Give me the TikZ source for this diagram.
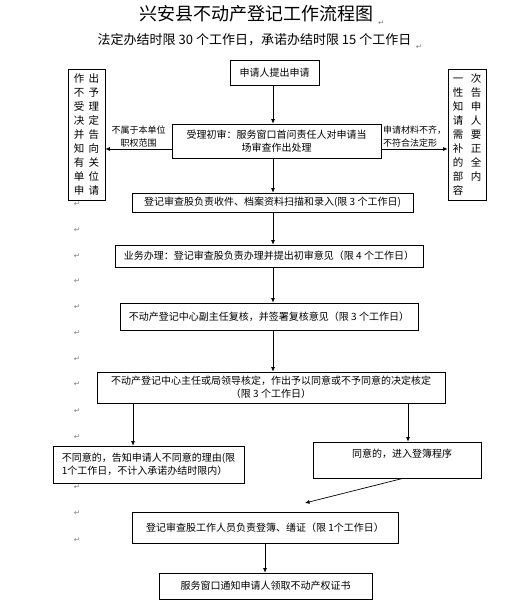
\documentclass[tikz,border=0pt]{standalone}
\usepackage{fontspec}
\setmainfont{Noto Sans CJK SC}
\newfontfamily\markfont{DejaVu Sans}
\usetikzlibrary{arrows.meta,positioning}

\newcommand{\duo}[3]{\makebox[#1]{#2}\makebox[#1]{#3}}

\tikzset{
  stage/.style={draw, line width=0.7pt, inner sep=0pt,
    font=\fontsize{10}{13}\selectfont},
  column/.style={stage, minimum width=37, minimum height=131, align=center,
    font=\fontsize{10.5}{14}\selectfont},
  flow/.style={line width=0.7pt, -{Latex[length=4.5pt,width=4pt]}},
  sidenote/.style={font=\fontsize{9}{13}\selectfont, inner sep=1pt},
  paramark/.style={font=\markfont\fontsize{7.5}{7.5}\selectfont, text=gray, inner sep=0pt},
}

\begin{document}
\begin{tikzpicture}[x=1pt, y=-1pt]
  \useasboundingbox (0,0) rectangle (513,605);

  % headings
  \node[font=\fontsize{18}{20}\selectfont] (title) at (256.5,14) {兴安县不动产登记工作流程图};
  \node[paramark, right=1pt of title.south east, anchor=south west] (titlemark) {↵};
  \node[font=\fontsize{13}{15}\selectfont] (limits) at (254.5,40) {法定办结时限 30 个工作日，承诺办结时限 15 个工作日};
  \node[paramark, right=1pt of limits.south east, anchor=south west] (limitsmark) {↵};

  % paragraph marks down the margin
  \foreach \y in {204,230,256,281,307,333,359,384,411,437,487,513,540}
    \node[paramark] (mark\y) at (77,\y) {↵};

  % main chain
  \node[stage, minimum width=89, minimum height=25] (apply) at (274.5,72.5) {申请人提出申请};
  \node[stage, minimum width=209, minimum height=34, align=center] (accept) at (276.5,141)
    {受理初审：服务窗口首问责任人对申请当\\场审查作出处理};
  \node[stage, minimum width=281, minimum height=19] (intake) at (272.5,202.5)
    {登记审查股负责收件、档案资料扫描和录入(限 3 个工作日)};
  \node[stage, minimum width=308, minimum height=22] (handle) at (269,256)
    {业务办理：登记审查股负责办理并提出初审意见（限 4 个工作日）};
  \node[stage, minimum width=298, minimum height=27] (review) at (269,316.5)
    {不动产登记中心副主任复核，并签署复核意见（限 3 个工作日）};
  \node[stage, minimum width=348, minimum height=31, align=center] (decide) at (271,387.5)
    {不动产登记中心主任或局领导核定，作出予以同意或不予同意的决定核定\\（限 3 个工作日）};
  \node[stage, minimum width=191, minimum height=37, align=left] (reject) at (148.5,464.5)
    {不同意的，告知申请人不同意的理由(限\\1个工作日，不计入承诺办结时限内）};
  \node[stage, minimum width=168, minimum height=36, align=center] (approve) at (397,460)
    {\hspace{10pt}同意的，进入登簿程序\\ \mbox{}};
  \node[stage, minimum width=266, minimum height=31] (record) at (265,527.5)
    {登记审查股工作人员负责登簿、缮证（限 1个工作日）};
  \node[stage, minimum width=213, minimum height=26] (notify) at (265.5,586)
    {服务窗口通知申请人领取不动产权证书};

  % side outcomes
  \node[column] (refuse) at (86.5,134.5)
    {\duo{15pt}{作}{出}\\\duo{15pt}{不}{予}\\\duo{15pt}{受}{理}\\\duo{15pt}{决}{定}\\
     \duo{15pt}{并}{告}\\\duo{15pt}{知}{向}\\\duo{15pt}{有}{关}\\\duo{15pt}{单}{位}\\
     \duo{15pt}{申}{请}};
  \node[column, minimum width=38] (inform) at (467,134.5)
    {\duo{18pt}{一}{次}\\\duo{18pt}{性}{告}\\\duo{18pt}{知}{申}\\\duo{18pt}{请}{人}\\
     \duo{18pt}{需}{要}\\\duo{18pt}{补}{正}\\\duo{18pt}{的}{全}\\\duo{18pt}{部}{内}\\
     \duo{18pt}{容}{}};

  % connectors
  \coordinate (spine) at (273,0);
  \coordinate (nobranch) at (133,0);
  \coordinate (yesbranch) at (408,0);
  \coordinate (regtip) at (305,503);
  \path ([yshift=-8pt]accept.west) coordinate (leftport)
        ([yshift=-8pt]accept.east) coordinate (rightport);

  \draw[flow] (apply.south -| spine) -- (accept.north -| spine);
  \draw[flow] (accept.south -| spine) -- (intake.north -| spine);
  \draw[flow] (intake.south -| spine) -- (handle.north -| spine);
  \draw[flow] (handle.south -| spine) -- (review.north -| spine);
  \draw[flow] (review.south -| spine) -- (decide.north -| spine);
  \draw[flow] (decide.south -| nobranch) -- (reject.north -| nobranch);
  \draw[flow] (decide.south -| yesbranch) -- (approve.north -| yesbranch);
  \draw[flow] ([xshift=6pt]approve.south) -- (regtip);
  \draw[flow] (record.south) -- (record.south |- notify.north);

  \draw[flow] (leftport) -- (leftport -| refuse.east)
    node[sidenote, midway, above, align=center] {不属于本单位\\职权范围};
  \draw[flow] (rightport) -- (rightport -| inform.west)
    node[sidenote, midway, above, align=left] {申请材料不齐，\\不符合法定形};
\end{tikzpicture}
\end{document}
